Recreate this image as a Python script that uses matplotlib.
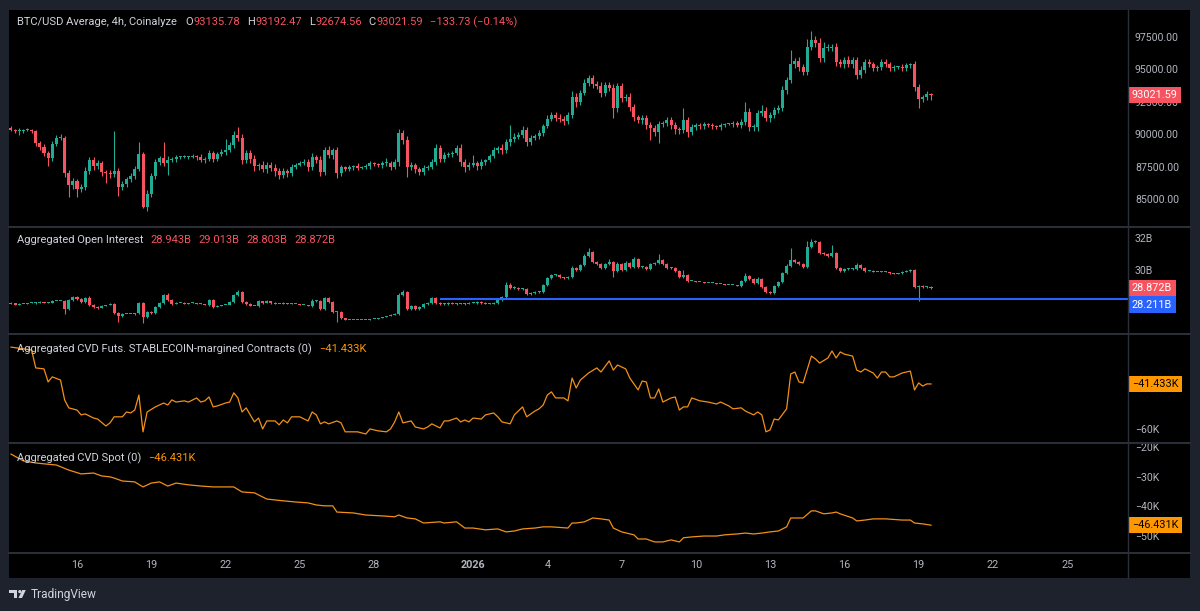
"""BTC/USD 4h with open interest and CVD panes, TradingView dark style."""
import numpy as np
import matplotlib
matplotlib.use("Agg")
import matplotlib.pyplot as plt
import matplotlib.dates as mdates
import matplotlib.transforms as mtransforms
from matplotlib.patches import Rectangle, Polygon, Circle
from matplotlib.lines import Line2D

plt.rcParams["font.family"] = ["Roboto", "DejaVu Sans"]

# ── data ──────────────────────────────────────────────────────────────────────
first_bar = np.datetime64("2025-12-13T08:00")   # 4h bars

price_open0 = 90480
price_close = [
    90320, 90250, 90250, 90320, 90320, 90250, 89320, 89010, 88550, 88160, 89240, 89710,
    89710, 87010, 86080, 86390, 85770, 85930, 87160, 88010, 87550, 87780, 87080, 87010,
    86930, 87160, 85930, 86160, 86540, 86780, 87320, 88470, 84380, 85390, 86780, 87860,
    88160, 87780, 88010, 88090, 88240, 88240, 88240, 88240, 88320, 88240, 88010, 88090,
    88550, 88090, 88470, 88630, 88780, 89170, 89940, 89710, 88010, 88550, 88090, 87550,
    87620, 87320, 87620, 87390, 87160, 86850, 87160, 87010, 87470, 87620, 87780, 87860,
    87470, 88240, 88010, 87080, 88780, 88400, 88780, 87010, 87470, 87320, 87470, 87550,
    87390, 87470, 87550, 87780, 87700, 87620, 87780, 87780, 87470, 87860, 90090, 89550,
    87470, 87620, 87320, 87080, 87390, 87470, 87860, 88940, 88090, 88400, 88470, 88550,
    88940, 87860, 87470, 87620, 87780, 87550, 87860, 88010, 88320, 88780, 88940, 88780,
    89400, 89630, 89780, 89940, 90320, 89400, 89710, 89860, 90090, 90630, 91170, 91480,
    91250, 91170, 91020, 91480, 92870, 92480, 93180, 93950, 94340, 93870, 93720, 93180,
    93800, 93570, 92020, 93720, 92790, 92870, 92100, 91330, 91100, 91250, 90710, 90480,
    90170, 90790, 90860, 91100, 90710, 90400, 90320, 91100, 90170, 90560, 90710, 90630,
    90790, 90710, 90630, 90560, 90710, 90790, 90790, 90860, 90710, 90940, 91710, 90560,
    90560, 91640, 91790, 91250, 91480, 91870, 92020, 93410, 94180, 95420, 95650, 95190,
    94800, 96730, 97270, 97040, 95880, 96650, 96650, 96730, 95570, 95420, 95730, 95420,
    95730, 94570, 94950, 95570, 95420, 95110, 95190, 95570, 95420, 95110, 95190, 95190,
    95110, 95340, 95420, 93640, 92720, 92870, 93136, 93022,
]
price_wick_hi = [
    150, 100, 200, 100, 150, 100, 100, 150, 200, 150, 200, 250,
    300, 150, 200, 250, 150, 200, 300, 200, 250, 200, 150, 150,
    200, 3100, 250, 200, 150, 200, 250, 900, 150, 300, 200, 200,
    150, 1200, 300, 150, 150, 100, 150, 100, 150, 100, 200, 150,
    200, 150, 150, 200, 850, 200, 300, 600, 300, 250, 200, 300,
    150, 300, 250, 200, 300, 200, 250, 150, 200, 150, 150, 200,
    200, 300, 150, 300, 200, 300, 150, 200, 150, 100, 150, 100,
    200, 100, 150, 150, 100, 100, 150, 400, 150, 200, 300, 250,
    300, 200, 150, 150, 200, 150, 200, 300, 200, 200, 150, 150,
    200, 300, 250, 200, 600, 150, 200, 100, 150, 200, 150, 300,
    200, 1100, 300, 200, 300, 200, 200, 150, 200, 150, 300, 200,
    200, 300, 250, 200, 500, 300, 200, 300, 200, 250, 200, 300,
    200, 250, 300, 200, 250, 200, 300, 200, 150, 200, 250, 200,
    200, 200, 150, 200, 200, 200, 150, 900, 250, 200, 150, 150,
    150, 100, 150, 100, 150, 100, 100, 150, 150, 200, 750, 300,
    200, 200, 500, 300, 200, 200, 200, 300, 250, 1100, 200, 300,
    200, 600, 700, 300, 400, 500, 300, 250, 300, 200, 200, 300,
    200, 200, 300, 200, 200, 150, 150, 250, 200, 150, 150, 100,
    200, 150, 100, 250, 200, 150, 200, 57,
]
price_wick_lo = [
    100, 150, 300, 150, 100, 150, 200, 200, 250, 600, 200, 150,
    150, 300, 900, 300, 600, 250, 200, 200, 300, 250, 300, 750,
    300, 200, 700, 250, 200, 200, 200, 150, 100, 300, 250, 200,
    200, 200, 900, 150, 200, 150, 100, 150, 100, 200, 150, 200,
    150, 200, 150, 150, 200, 150, 200, 200, 300, 200, 300, 400,
    350, 200, 300, 200, 400, 300, 200, 350, 200, 150, 100, 150,
    300, 200, 200, 300, 200, 200, 300, 400, 200, 150, 150, 200,
    150, 100, 150, 200, 150, 150, 200, 200, 250, 150, 300, 300,
    750, 200, 300, 250, 200, 150, 150, 200, 250, 200, 150, 200,
    150, 300, 400, 200, 150, 300, 200, 200, 150, 150, 200, 300,
    200, 300, 200, 150, 200, 300, 200, 150, 200, 200, 150, 150,
    200, 250, 300, 200, 200, 400, 200, 150, 200, 300, 250, 300,
    250, 200, 750, 300, 300, 200, 300, 300, 250, 300, 300, 900,
    300, 850, 200, 200, 300, 350, 300, 200, 400, 250, 200, 200,
    200, 150, 200, 150, 200, 150, 100, 200, 150, 200, 200, 300,
    300, 300, 200, 200, 300, 200, 200, 250, 300, 200, 300, 300,
    250, 200, 200, 300, 300, 300, 200, 250, 300, 200, 300, 200,
    300, 300, 200, 250, 200, 200, 200, 250, 200, 200, 200, 150,
    200, 200, 200, 300, 700, 200, 250, 347,
]

oi_open0 = 27.90
oi_close = [
    27.94, 27.81, 27.88, 27.88, 27.94, 27.94, 27.94, 28.00, 27.94, 27.94, 28.06, 28.06,
    28.06, 27.56, 28.13, 28.31, 28.19, 28.00, 28.25, 27.81, 27.69, 27.63, 27.75, 27.81,
    27.88, 27.31, 27.13, 27.25, 27.25, 27.25, 27.31, 27.94, 27.06, 27.38, 27.31, 27.69,
    27.94, 28.44, 28.13, 27.88, 27.94, 27.94, 27.88, 27.94, 27.94, 27.88, 27.88, 27.81,
    28.13, 27.69, 27.75, 27.81, 27.81, 28.00, 28.44, 28.63, 28.00, 27.88, 27.75, 27.75,
    28.06, 27.94, 28.06, 27.94, 27.88, 27.88, 27.94, 27.88, 27.88, 27.88, 27.81, 27.81,
    27.75, 28.06, 28.06, 27.56, 28.25, 28.00, 27.38, 27.38, 27.00, 26.88, 26.88, 26.88,
    26.88, 26.88, 26.88, 26.94, 26.94, 27.00, 27.06, 27.13, 27.19, 27.25, 28.44, 28.63,
    27.56, 27.75, 27.56, 27.69, 27.88, 27.94, 28.25, 27.94, 27.88, 27.88, 27.94, 27.88,
    27.88, 27.88, 27.88, 27.94, 27.94, 28.00, 27.94, 27.88, 27.88, 27.94, 28.13, 28.31,
    29.06, 28.88, 28.88, 28.81, 28.81, 28.50, 28.56, 28.63, 28.63, 29.06, 29.50, 29.69,
    29.69, 29.56, 29.50, 29.56, 30.13, 30.00, 30.31, 30.88, 31.13, 30.50, 30.38, 30.13,
    30.38, 30.50, 29.94, 30.38, 30.00, 30.44, 30.19, 30.69, 30.19, 30.19, 30.06, 30.38,
    30.44, 30.63, 30.38, 30.13, 30.13, 29.94, 29.56, 29.69, 29.31, 29.31, 29.25, 29.25,
    29.19, 29.19, 29.19, 29.13, 29.13, 29.06, 29.06, 29.06, 29.00, 29.31, 29.63, 29.44,
    29.19, 29.44, 28.94, 28.63, 28.56, 29.00, 29.25, 29.81, 30.25, 30.63, 30.50, 30.38,
    30.19, 31.44, 31.75, 31.75, 31.06, 31.00, 30.88, 31.06, 30.13, 29.94, 30.06, 30.06,
    30.06, 30.31, 30.13, 29.94, 29.94, 29.88, 29.88, 29.88, 29.88, 29.81, 29.75, 29.81,
    29.88, 29.94, 30.00, 28.94, 29.00, 28.94, 28.943, 28.872,
]
oi_wick_hi = [
    .03, .02, .03, .02, .02, .03, .04, .03, .02, .03, .05, .03,
    .03, .05, .08, .06, .04, .03, .05, .10, .04, .03, .03, .02,
    .03, .08, .05, .03, .02, .02, .03, .08, .06, .04, .05, .06,
    .05, .08, .10, .04, .03, .02, .03, .02, .03, .02, .03, .02,
    .06, .05, .03, .02, .03, .04, .06, .10, .04, .03, .03, .02,
    .06, .03, .05, .03, .03, .02, .03, .02, .03, .02, .02, .03,
    .03, .10, .04, .05, .08, .06, .04, .05, .03, .02, .02, .02,
    .02, .02, .02, .02, .02, .02, .02, .02, .03, .03, .10, .12,
    .05, .06, .04, .05, .04, .03, .06, .05, .03, .04, .03, .03,
    .03, .04, .03, .03, .04, .04, .03, .03, .03, .04, .05, .08,
    .20, .10, .12, .06, .05, .04, .05, .04, .05, .08, .08, .05,
    .04, .04, .03, .05, .12, .08, .08, .10, .25, .06, .05, .04,
    .06, .20, .05, .10, .06, .12, .06, .12, .06, .05, .05, .08,
    .06, .40, .06, .04, .04, .03, .05, .30, .04, .03, .02, .02,
    .02, .02, .02, .02, .02, .02, .02, .02, .02, .06, .20, .08,
    .06, .12, .05, .04, .05, .06, .08, .08, .10, .75, .06, .05,
    .05, .40, .20, .10, .06, .05, .06, .50, .06, .05, .04, .04,
    .04, .10, .05, .04, .03, .03, .02, .03, .03, .02, .03, .02,
    .03, .04, .08, .05, .05, .04, .03, .07,
]
oi_wick_lo = [
    .03, .03, .02, .03, .02, .03, .05, .03, .02, .03, .03, .02,
    .03, .30, .06, .05, .04, .05, .05, .04, .05, .04, .03, .03,
    .03, .06, .37, .05, .03, .03, .04, .06, .37, .05, .04, .06,
    .05, .04, .06, .04, .03, .02, .03, .02, .03, .02, .03, .03,
    .05, .06, .03, .02, .03, .03, .04, .05, .05, .04, .03, .02,
    .04, .05, .03, .04, .03, .02, .03, .02, .03, .02, .02, .03,
    .03, .04, .05, .08, .05, .05, .06, .62, .05, .03, .02, .02,
    .02, .02, .02, .02, .02, .02, .02, .02, .03, .03, .05, .05,
    .06, .08, .05, .05, .04, .04, .05, .06, .04, .04, .05, .03,
    .04, .03, .04, .03, .03, .04, .04, .03, .03, .03, .04, .04,
    .05, .06, .05, .06, .04, .05, .04, .05, .05, .05, .06, .05,
    .04, .05, .05, .04, .06, .06, .05, .06, .06, .08, .05, .06,
    .05, .06, .36, .05, .06, .05, .06, .05, .08, .06, .06, .05,
    .05, .06, .05, .05, .04, .04, .06, .05, .05, .03, .02, .02,
    .02, .02, .02, .02, .02, .02, .02, .02, .02, .05, .05, .05,
    .06, .05, .06, .08, .08, .05, .06, .05, .05, .05, .06, .05,
    .05, .05, .04, .06, .05, .05, .06, .05, .06, .08, .05, .04,
    .04, .05, .05, .04, .03, .03, .03, .03, .03, .03, .03, .03,
    .03, .03, .04, .06, .90, .05, .04, .07,
]
oi_level = 28.211
oi_level_from_bar = 104

# (bar index, value in K) vertices of the CVD lines
cvd_futs = [
    (0, -26.2), (5, -27.4), (6, -34.8), (8, -35.2), (9, -40.6), (10, -38.5), (12, -39.8),
    (13, -48.0), (14, -51.3), (16, -52.2), (17, -54.2), (18, -53.8), (20, -55.5), (21, -55.9),
    (23, -58.8), (24, -57.5), (25, -55.0), (27, -55.0), (28, -53.0), (29, -53.4), (30, -52.2),
    (31, -46.0), (32, -61.2), (33, -53.0), (35, -50.9), (36, -50.1), (37, -49.3), (38, -50.1),
    (39, -48.0), (40, -48.9), (42, -48.4), (43, -48.9), (45, -47.2), (46, -48.9), (47, -48.4),
    (48, -46.8), (49, -50.9), (50, -50.5), (52, -49.3), (53, -48.9), (54, -45.1), (55, -47.2),
    (56, -53.0), (57, -51.3), (59, -57.1), (60, -55.5), (61, -60.0), (62, -56.7), (64, -56.7),
    (65, -58.3), (66, -56.3), (67, -57.5), (68, -55.0), (70, -55.0), (72, -56.7), (73, -53.0),
    (74, -54.2), (75, -57.9), (76, -57.1), (77, -57.9), (79, -56.7), (80, -57.5), (81, -61.2),
    (84, -61.2), (86, -62.1), (87, -60.0), (89, -60.8), (91, -61.2), (92, -60.0), (93, -57.1),
    (94, -53.0), (95, -57.5), (97, -56.7), (98, -59.2), (100, -60.0), (101, -59.2), (102, -57.9),
    (104, -59.6), (105, -56.7), (106, -56.7), (108, -55.5), (109, -57.1), (110, -56.3),
    (111, -57.1), (112, -55.5), (114, -55.9), (115, -54.2), (117, -53.4), (118, -55.0),
    (119, -57.1), (121, -57.9), (122, -54.2), (124, -50.9), (125, -55.0), (127, -52.6),
    (128, -51.7), (129, -50.1), (130, -46.0), (131, -44.7), (132, -47.2), (134, -47.2),
    (135, -48.4), (136, -39.0), (137, -43.1), (138, -39.8), (140, -36.9), (142, -34.8),
    (143, -36.5), (145, -31.9), (146, -35.7), (147, -33.6), (149, -35.2), (150, -39.0),
    (151, -41.4), (152, -43.9), (153, -40.2), (154, -40.6), (155, -47.2), (156, -47.2),
    (157, -43.5), (158, -48.9), (160, -47.2), (161, -46.8), (162, -52.2), (163, -50.9),
    (164, -50.9), (165, -47.2), (167, -48.4), (169, -48.9), (171, -49.7), (172, -48.9),
    (174, -50.5), (175, -51.7), (177, -51.3), (178, -52.6), (180, -54.2), (181, -53.0),
    (182, -54.2), (183, -61.2), (184, -60.4), (185, -55.9), (186, -56.3), (188, -51.7),
    (189, -37.3), (190, -36.5), (191, -40.6), (192, -41.0), (194, -29.9), (195, -31.1),
    (196, -32.8), (198, -30.7), (199, -27.8), (200, -30.7), (201, -28.2), (202, -29.1),
    (204, -29.9), (205, -35.7), (206, -36.5), (207, -35.2), (209, -36.9), (210, -39.0),
    (211, -36.5), (212, -36.5), (213, -38.5), (214, -38.5), (216, -36.9), (218, -36.1),
    (219, -43.9), (220, -41.0), (221, -42.3), (222, -41.4), (223, -41.433),
]
cvd_spot = [
    (0, -22.4), (3, -24.7), (6, -25.4), (8, -25.7), (11, -26.1), (14, -27.8), (17, -29.1),
    (20, -28.8), (22, -29.8), (24, -30.1), (25, -30.5), (27, -31.5), (30, -31.8), (32, -33.5),
    (34, -32.2), (36, -31.8), (38, -33.2), (40, -32.2), (43, -32.8), (46, -33.2), (49, -33.5),
    (54, -33.5), (56, -35.2), (59, -35.5), (62, -37.6), (66, -38.2), (69, -38.6), (72, -38.9),
    (74, -39.6), (76, -39.9), (78, -39.9), (79, -42.0), (83, -42.3), (86, -43.0), (90, -43.3),
    (93, -43.6), (94, -43.0), (96, -44.0), (98, -44.3), (100, -45.7), (104, -45.3),
    (105, -45.7), (108, -45.3), (110, -47.4), (112, -47.4), (115, -48.0), (118, -47.7),
    (120, -48.7), (122, -48.4), (124, -47.7), (127, -47.4), (129, -47.0), (131, -47.0),
    (135, -47.4), (136, -45.7), (137, -45.7), (139, -45.3), (141, -44.0), (143, -44.3),
    (145, -44.7), (146, -47.4), (148, -48.7), (151, -49.7), (152, -51.1), (154, -51.1),
    (156, -52.1), (158, -52.1), (160, -51.4), (162, -52.1), (163, -50.7), (165, -50.4),
    (168, -50.1), (171, -50.1), (173, -49.7), (176, -49.4), (178, -49.1), (180, -49.4),
    (182, -49.1), (184, -48.7), (186, -48.4), (188, -47.0), (189, -44.0), (191, -44.0),
    (192, -44.0), (194, -41.6), (195, -41.6), (197, -42.6), (199, -42.3), (200, -42.0),
    (201, -42.6), (204, -44.0), (205, -45.0), (207, -44.7), (209, -44.3), (212, -44.3),
    (216, -44.7), (218, -44.7), (219, -45.7), (221, -46.0), (223, -46.431),
]

tick_dates = ["2025-12-16", "2025-12-19", "2025-12-22", "2025-12-25", "2025-12-28",
              "2026-01-01", "2026-01-04", "2026-01-07", "2026-01-10", "2026-01-13",
              "2026-01-16", "2026-01-19", "2026-01-22", "2026-01-25"]
tick_labels = ["16", "19", "22", "25", "28", "2026", "4", "7", "10", "13", "16", "19", "22", "25"]

price_ticks = [85000, 87500, 90000, 92500, 95000, 97500]
oi_ticks = [30, 32]
futs_ticks = [-60]
spot_ticks = [-50, -40, -30, -20]

price_ohlc_text = ["93135.78", "93192.47", "92674.56", "93021.59"]
price_change_text = "\u2212133.73 (\u22120.14%)"
oi_ohlc_text = ["28.943B", "29.013B", "28.803B", "28.872B"]

# ── style ─────────────────────────────────────────────────────────────────────
W, H = 1200, 611
BG_OUT = "#1e222d"
BG = "#000000"
SEP = "#2a2e39"
TXT = "#d1d4dc"
TICK = "#b2b5be"
GREEN = "#22ab94"
RED = "#f7525f"
ORANGE = "#ff9800"
CVD_LINE = "#f29018"
BLUE = "#2962ff"
BODY_W = 0.73 * 4 / 24   # days

fig = plt.figure(figsize=(W / 100, H / 100), dpi=100)
fig.patch.set_facecolor(BG_OUT)
px = mtransforms.Affine2D().scale(1 / W, -1 / H).translate(0, 1) + fig.transFigure

fig.add_artist(Rectangle((9, 10), 1181, 568, transform=px, fc=BG, ec="none", zorder=-10))


def axes_px(x0, y0, x1, y1):
    ax = fig.add_axes([x0 / W, 1 - y1 / H, (x1 - x0) / W, (y1 - y0) / H])
    ax.set_facecolor(BG)
    for s in ax.spines.values():
        s.set_visible(False)
    ax.yaxis.tick_right()
    ax.tick_params(axis="y", length=0, pad=5, labelsize=7.6, labelcolor=TICK)
    ax.tick_params(axis="x", length=0, labelbottom=False)
    return ax


ax_p = axes_px(9, 10, 1128, 226)
ax_oi = axes_px(9, 228, 1128, 333)
ax_f = axes_px(9, 335, 1128, 442)
ax_s = axes_px(9, 444, 1128, 552)
axes = [ax_p, ax_oi, ax_f, ax_s]

n = len(price_close)
bars = first_bar + np.arange(n) * np.timedelta64(4, "h")
t = mdates.date2num(bars)


def bar_time(idx):
    return mdates.date2num(first_bar + np.asarray(idx, dtype=int) * np.timedelta64(4, "h"))


def draw_candles(ax, o, c, whi, wlo, min_body):
    o, c = np.asarray(o, float), np.asarray(c, float)
    top, bot = np.maximum(o, c), np.minimum(o, c)
    cols = np.where(c >= o, GREEN, RED)
    ax.vlines(t, bot - np.asarray(wlo), top + np.asarray(whi), colors=cols, lw=0.8, zorder=2)
    ax.bar(t, np.maximum(top - bot, min_body), bottom=bot, width=BODY_W,
           color=cols, lw=0, zorder=3)


# price
p_open = [price_open0] + price_close[:-1]
draw_candles(ax_p, p_open, price_close, price_wick_hi, price_wick_lo, 60)
ax_p.set_ylim(82917, 99583)
ax_p.set_yticks(price_ticks)
ax_p.set_yticklabels([f"{v:.2f}" for v in price_ticks])

# open interest
oi_open = [oi_open0] + oi_close[:-1]
draw_candles(ax_oi, oi_open, oi_close, oi_wick_hi, oi_wick_lo, 0.04)
ax_oi.set_ylim(26.06, 32.625)
ax_oi.set_yticks(oi_ticks)
ax_oi.set_yticklabels([f"{v}B" for v in oi_ticks])
x_right = mdates.date2num(np.datetime64("2026-01-27T11:00"))
ax_oi.hlines(oi_level, bar_time(oi_level_from_bar), x_right, color=BLUE, lw=1.5, zorder=4)

# CVD lines
fb, fv = zip(*cvd_futs)
ax_f.plot(bar_time(fb), fv, color=CVD_LINE, lw=0.9)
ax_f.set_ylim(-65.4, -21.2)
ax_f.set_yticks(futs_ticks)
ax_f.set_yticklabels([f"\u2212{abs(v)}K" for v in futs_ticks])

sb, sv = zip(*cvd_spot)
ax_s.plot(bar_time(sb), sv, color=CVD_LINE, lw=0.9)
ax_s.set_ylim(-55.5, -18.99)
ax_s.set_yticks(spot_ticks)
ax_s.set_yticklabels([f"\u2212{abs(v)}K" for v in spot_ticks])

x_left = mdates.date2num(np.datetime64("2025-12-13T06:04"))
for ax in axes:
    ax.set_xlim(x_left, x_right)

ax_s.set_xticks(mdates.date2num(np.array(tick_dates, dtype="datetime64[D]")))
ax_s.set_xticklabels(tick_labels)
ax_s.tick_params(axis="x", labelbottom=True, pad=6, labelsize=7.8, labelcolor=TICK)
for lab in ax_s.get_xticklabels():
    if lab.get_text() == "2026":
        lab.set_fontweight("bold")


def badge(ax, y, s, fc, tc, dy=0):
    tr = mtransforms.blended_transform_factory(ax.transAxes, ax.transData)
    ax.annotate(s, xy=(1, y), xycoords=tr, xytext=(4, dy), textcoords="offset pixels",
                ha="left", va="center", fontsize=7.8, color=tc, annotation_clip=False,
                bbox=dict(boxstyle="square,pad=0.3", fc=fc, ec="none"), zorder=10)


badge(ax_p, float(price_ohlc_text[3]), price_ohlc_text[3], RED, "white")
badge(ax_oi, float(oi_ohlc_text[3][:-1]), oi_ohlc_text[3], RED, "white")
badge(ax_oi, oi_level, f"{oi_level:.3f}B", BLUE, "white", dy=-6)
badge(ax_f, cvd_futs[-1][1], f"\u2212{abs(cvd_futs[-1][1]):.3f}K", ORANGE, "black")
badge(ax_s, cvd_spot[-1][1], f"\u2212{abs(cvd_spot[-1][1]):.3f}K", ORANGE, "black")

# separators
for y in (227, 334, 443, 552.5):
    fig.add_artist(Line2D([9, 1190], [y, y], transform=px, color=SEP, lw=1.5))
fig.add_artist(Line2D([1128, 1128], [10, 578], transform=px, color=SEP, lw=1.0))

# legend rows
renderer = fig.canvas.get_renderer()


def text_row(x, y, parts, size=8):
    for gap, s, col in parts:
        x += gap
        tx = fig.text(x / W, 1 - y / H, s, color=col, fontsize=size, ha="left", va="center")
        x = tx.get_window_extent(renderer).x1


text_row(17, 22, [(0, "BTC/USD Average, 4h, Coinalyze", TXT),
                  (8, "O", TXT), (0.5, price_ohlc_text[0], RED),
                  (7, "H", TXT), (0.5, price_ohlc_text[1], RED),
                  (7, "L", TXT), (0.5, price_ohlc_text[2], RED),
                  (7, "C", TXT), (0.5, price_ohlc_text[3], RED),
                  (7, price_change_text, RED)])
text_row(17, 240, [(0, "Aggregated Open Interest", TXT)] +
         [(7, s, RED) for s in oi_ohlc_text])
text_row(17, 349, [(0, "Aggregated CVD Futs. STABLECOIN-margined Contracts (0)", TXT),
                   (7, f"\u2212{abs(cvd_futs[-1][1]):.3f}K", ORANGE)])
text_row(17, 458, [(0, "Aggregated CVD Spot (0)", TXT),
                   (7, f"\u2212{abs(cvd_spot[-1][1]):.3f}K", ORANGE)])

# TradingView mark
fig.add_artist(Polygon([(9, 590), (17, 590), (17, 598), (13.5, 598), (13.5, 593), (9, 593)],
                       closed=True, transform=px, fc=TXT, ec="none"))
fig.add_artist(Circle((19.8, 591.6), 1.6, transform=px, fc=TXT, ec="none"))
fig.add_artist(Polygon([(18.5, 598), (22.3, 590), (25.8, 590), (22, 598)],
                       closed=True, transform=px, fc=TXT, ec="none"))
fig.text(31 / W, 1 - 594.5 / H, "TradingView", color=TXT, fontsize=8.6, ha="left", va="center")

fig.savefig("out.png", dpi=100, facecolor=fig.get_facecolor())
